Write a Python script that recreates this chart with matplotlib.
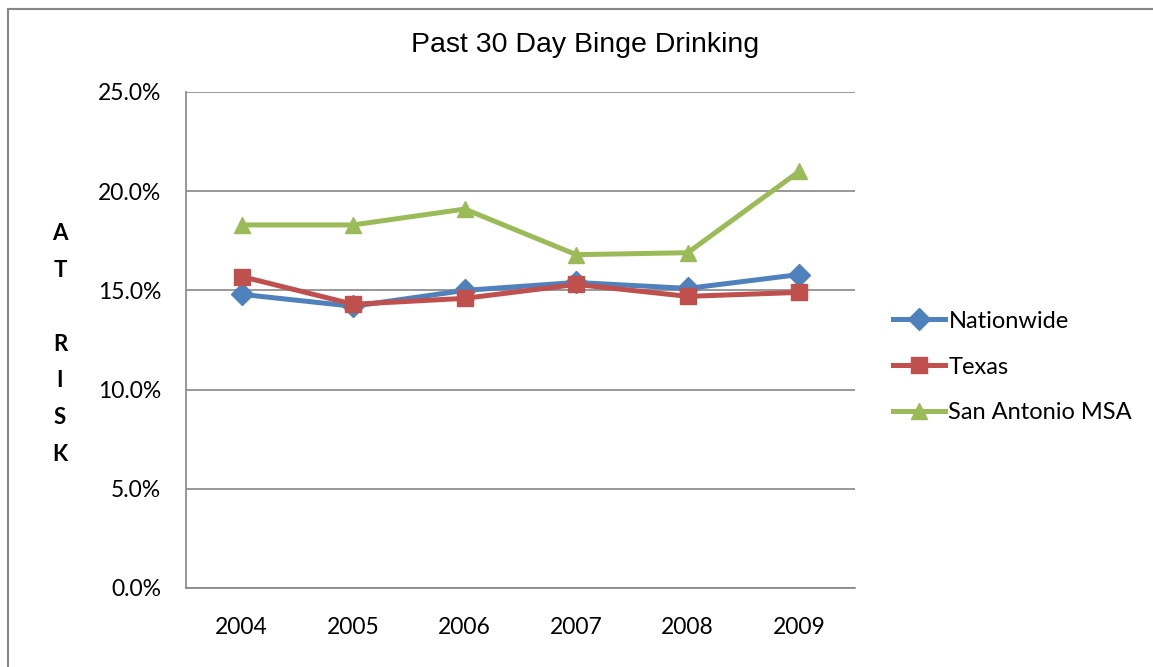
import matplotlib
matplotlib.use("Agg")
import matplotlib.pyplot as plt
from matplotlib.lines import Line2D
from matplotlib.ticker import FuncFormatter

# dados
anos = ["2004", "2005", "2006", "2007", "2008", "2009"]
nationwide = [14.8, 14.2, 15.0, 15.4, 15.1, 15.8]
texas = [15.7, 14.3, 14.6, 15.3, 14.7, 14.9]
san_antonio = [18.3, 18.3, 19.1, 16.8, 16.9, 21.0]

W, H = 1153, 667
fig = plt.figure(figsize=(W / 100, H / 100), dpi=100)
ax = fig.add_axes([186 / W, 1 - 588 / H, (855 - 186) / W, (588 - 92) / H])

x = range(len(anos))
ax.plot(x, nationwide, color="#4F81BD", lw=3.6, marker="D", ms=11, label="Nationwide")
ax.plot(x, texas, color="#C0504D", lw=3.6, marker="s", ms=11, label="Texas")
ax.plot(x, san_antonio, color="#9BBB59", lw=3.6, marker="^", ms=12, label="San Antonio MSA")

ax.set_xlim(-0.5, 5.5)
ax.set_ylim(0, 25)
ax.set_yticks([0, 5, 10, 15, 20, 25])
ax.yaxis.set_major_formatter(FuncFormatter(lambda v, p: f"{v:.1f}%"))
ax.set_xticks(list(x))
ax.set_xticklabels(anos)
ax.grid(axis="y", color="#868686", lw=1.2)
ax.set_axisbelow(True)
for s in ["top", "right"]:
    ax.spines[s].set_visible(False)
for s in ["left", "bottom"]:
    ax.spines[s].set_color("#868686")
    ax.spines[s].set_linewidth(1.2)
ax.tick_params(length=0, labelsize=16.5)
ax.tick_params(axis="y", pad=18)
ax.tick_params(axis="x", pad=21)
for t in ax.get_xticklabels() + ax.get_yticklabels():
    t.set_fontfamily("Lato")

fig.text(585 / W, 1 - 45 / H, "Past 30 Day Binge Drinking", ha="center", va="center",
         fontsize=20.5, family="Liberation Sans")

fig.text(60 / W, 1 - 344 / H, "A\nT\n\nR\nI\nS\nK", ha="center", va="center",
         fontsize=16, fontweight="bold", family="Lato", linespacing=1.93)

fig.legend(loc="center left", bbox_to_anchor=(893 / W, 1 - 367 / H), frameon=False,
           prop={"family": "Lato", "size": 17}, handlelength=2.2, handletextpad=0.15,
           labelspacing=1.05, borderaxespad=0, borderpad=0)

# moldura do documento
fig.add_artist(Line2D([8 / W, 8 / W], [0, 1 - 9 / H], color="#868686", lw=1.5))
fig.add_artist(Line2D([8 / W, 1], [1 - 9 / H, 1 - 9 / H], color="#868686", lw=1.5))

fig.savefig("out.png", dpi=100)
